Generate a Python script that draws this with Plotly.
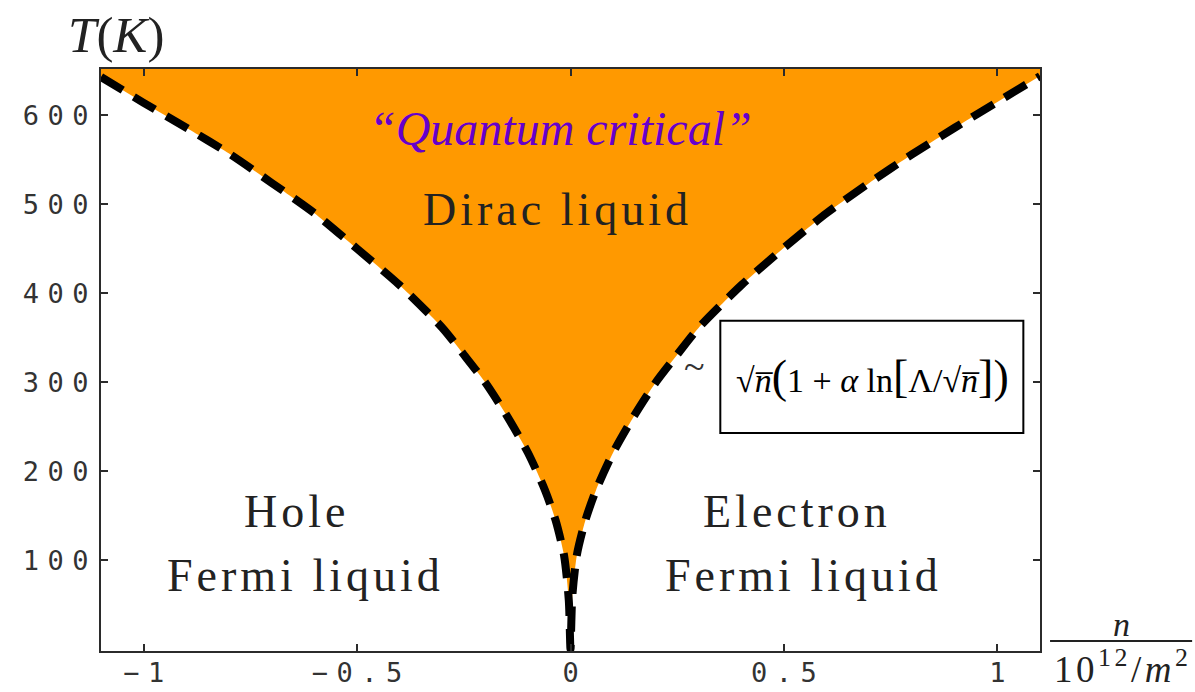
import plotly.graph_objects as go

# Crossover temperature T*(n) between the Dirac liquid and the Fermi liquids
n_vals = [-1.1, -1.0, -0.9, -0.8, -0.7, -0.6, -0.5, -0.4, -0.3, -0.25, -0.2,
          -0.15, -0.1, -0.06, -0.035, -0.015, -0.004, 0.0,
          0.004, 0.015, 0.035, 0.06, 0.1, 0.15, 0.2, 0.25, 0.3, 0.4, 0.5,
          0.6, 0.7, 0.8, 0.9, 1.0, 1.1]
T_vals = [643, 614, 586, 557, 524, 490, 450, 409, 361, 331, 300,
          263, 221, 179, 145, 105, 55, 0,
          58, 106, 145, 179, 221, 263, 300, 331, 361, 409, 451,
          490, 524, 556, 586, 615, 644]

x_ticks = [-1, -0.5, 0, 0.5, 1]
x_tick_labels = ["\u22121", "\u22120.5", "0", "0.5", "1"]
y_ticks = [100, 200, 300, 400, 500, 600]
y_tick_labels = ["100", "200", "300", "400", "500", "600"]

X_RANGE = [-1.1, 1.1]
Y_RANGE = [-2, 652]

ORANGE = "rgb(255,153,0)"
PURPLE = "rgb(102,0,204)"
AXIS = "#2b2b2b"
INK = "#222"
SERIF = "Liberation Serif"
MONO = "DejaVu Sans Mono"


def spaced(s, px=8.5):
    """Widen the gaps between characters, leaving no trailing gap."""
    if len(s) < 2:
        return s
    return f'<span style="letter-spacing:{px}px">{s[:-1]}</span>{s[-1]}'


def wide(s, px=4):
    return f'<span style="letter-spacing:{px}px">{s}</span>'


fig = go.Figure()

# Upper edge of the shaded region (above the top of the frame)
fig.add_trace(go.Scatter(
    x=n_vals, y=[Y_RANGE[1] + 60] * len(n_vals), mode="lines",
    line=dict(width=0, color=ORANGE),
    hoverinfo="skip", showlegend=False,
))

# Crossover line, with the quantum critical region shaded above it
fig.add_trace(go.Scatter(
    x=n_vals, y=T_vals, mode="lines",
    fill="tonexty", fillcolor=ORANGE,
    line=dict(color="black", width=8, dash="25px,13px",
              shape="spline", smoothing=0.7),
    hoverinfo="skip", showlegend=False,
))

axis_common = dict(
    showgrid=False, zeroline=False, automargin=False,
    showline=True, linecolor=AXIS, linewidth=2, mirror="ticks",
    ticks="inside", ticklen=7, tickwidth=1.5, tickcolor=AXIS,
    tickfont=dict(family=MONO, size=27, color="#333"),
)

fig.update_layout(
    width=1195, height=692,
    margin=dict(l=101, r=155, t=69, b=41),
    paper_bgcolor="white", plot_bgcolor="white",
    showlegend=False,
    xaxis=dict(range=X_RANGE, tickvals=x_ticks,
               ticktext=[spaced(t) for t in x_tick_labels],
               ticklabelstandoff=-3, **axis_common),
    yaxis=dict(range=Y_RANGE, tickvals=y_ticks,
               ticktext=[spaced(t) for t in y_tick_labels],
               ticklabelstandoff=5, **axis_common),
)

# Axis titles
fig.add_annotation(
    xref="paper", yref="paper", x=0.016, y=1.058,
    xanchor="center", yanchor="middle",
    text="<i>T</i>(<i>K</i>)", showarrow=False,
    font=dict(family=SERIF, size=51, color=INK),
)
fig.add_annotation(
    xref="paper", yref="paper", x=1.087, y=0.046,
    xanchor="center", yanchor="middle",
    text="<i>n</i>", showarrow=False,
    font=dict(family=SERIF, size=34, color=INK),
)
fig.add_annotation(
    xref="paper", yref="paper", x=1.088, y=-0.026,
    xanchor="center", yanchor="middle",
    text=wide("10<sup>12</sup>/<i>m</i><sup>2</sup>", 3.5), showarrow=False,
    font=dict(family=SERIF, size=37, color=INK),
)
fig.add_shape(type="line", xref="paper", yref="paper",
              x0=1.0107, x1=1.162, y0=0.0172, y1=0.0172,
              line=dict(color=INK, width=2))

# Region labels
fig.add_annotation(
    x=-0.024, y=585, xanchor="center", yanchor="middle",
    text="<i>\u201cQuantum critical\u201d</i>", showarrow=False,
    font=dict(family=SERIF, size=48, color=PURPLE),
)
fig.add_annotation(
    x=-0.03, y=494, xanchor="center", yanchor="middle",
    text=wide("Dirac liquid"), showarrow=False,
    font=dict(family=SERIF, size=46, color=INK),
)
region_lines = [
    (-0.643, 155, "Hole"),
    (-0.620, 83, "Fermi liquid"),
    (0.530, 155, "Electron"),
    (0.547, 83, "Fermi liquid"),
]
for x, y, label in region_lines:
    fig.add_annotation(
        x=x, y=y, xanchor="center", yanchor="middle",
        text=wide(label), showarrow=False,
        font=dict(family=SERIF, size=46, color=INK),
    )

# Asymptotic form of the crossover
fig.add_shape(type="rect", x0=0.351, x1=1.061, y0=243, y1=369,
              line=dict(color="black", width=2), fillcolor="white")
big = '<span style="font-size:46px">{}</span>'
formula = (
    "\u221a<i>n\u0305</i>" + big.format("(") + "1 + <i>\u03b1</i> ln"
    + big.format("[") + "\u039b/\u221a<i>n\u0305</i>" + big.format("])")
)
fig.add_annotation(
    x=0.707, y=306, xanchor="center", yanchor="middle",
    text=formula, showarrow=False,
    font=dict(family=SERIF, size=34, color="black"),
)
fig.add_annotation(
    x=0.29, y=318, xanchor="center", yanchor="middle",
    text="~", showarrow=False,
    font=dict(family=SERIF, size=38, color="#333"),
)

fig.write_html("out.html")
